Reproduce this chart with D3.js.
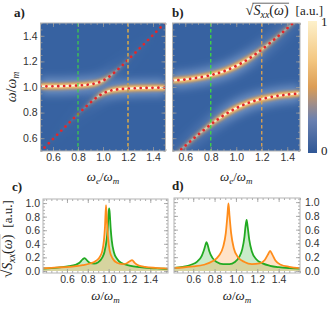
<!DOCTYPE html>
<html>
<head>
<meta charset="utf-8">
<script src="https://cdn.jsdelivr.net/npm/d3@7"></script>
<style>
body { margin: 0; background: #fff; }
svg { display: block; }
.tick text { font-family: "Liberation Sans", Arial, sans-serif; font-size: 10.5px; fill: #333; }
</style>
</head>
<body>
<script>
var svgWidth = 332;
var svgHeight = 309;

// ---- top panels: polariton branches vs omega_e
var omegaE = [0.5, 0.6, 0.7, 0.8, 0.85, 0.9, 0.95, 1.0, 1.05, 1.1, 1.15, 1.2, 1.3, 1.4, 1.5];
var upperA = [1.005, 1.006, 1.008, 1.012, 1.015, 1.021, 1.031, 1.05, 1.081, 1.121, 1.165, 1.212, 1.308, 1.406, 1.505];
var lowerA = [0.495, 0.594, 0.692, 0.788, 0.835, 0.879, 0.919, 0.95, 0.969, 0.979, 0.985, 0.988, 0.992, 0.994, 0.995];
var upperB = [1.050, 1.059, 1.073, 1.093, 1.106, 1.122, 1.142, 1.165, 1.192, 1.222, 1.256, 1.293, 1.373, 1.459, 1.550];
var lowerB = [0.451, 0.541, 0.627, 0.707, 0.744, 0.778, 0.808, 0.835, 0.858, 0.878, 0.894, 0.907, 0.927, 0.941, 0.950];
// brightness of the density along each branch (0..1)
var glowUpperA = [1, 1, 1, 1, 0.97, 0.92, 0.8, 0.55, 0.3, 0.15, 0.08, 0.05, 0.02, 0.01, 0];
var glowLowerA = [0, 0.01, 0.02, 0.05, 0.08, 0.15, 0.3, 0.55, 0.8, 0.92, 0.97, 1, 1, 1, 1];
var glowUpperB = [1, 1, 1, 1, 1, 1, 1, 1, 0.92, 0.8, 0.65, 0.5, 0.33, 0.22, 0.15];
var glowLowerB = [0.15, 0.22, 0.33, 0.5, 0.65, 0.8, 0.92, 1, 1, 1, 1, 1, 1, 1, 1];

var cutValues = [0.8, 1.2];
var heatTicks = [0.6, 0.8, 1.0, 1.2, 1.4];

// ---- bottom panels: spectra at the two cuts
var cGreenW = [0.37, 0.45, 0.55, 0.62, 0.68, 0.72, 0.75, 0.77, 0.79, 0.82, 0.86, 0.90, 0.94, 0.96, 0.98, 0.99, 1.0, 1.005, 1.01, 1.02, 1.03, 1.05, 1.08, 1.12, 1.2, 1.3, 1.4, 1.5, 1.57];
var cGreenS = [0.035, 0.042, 0.055, 0.07, 0.09, 0.12, 0.17, 0.19, 0.16, 0.12, 0.11, 0.13, 0.2, 0.28, 0.45, 0.6, 0.85, 0.92, 0.86, 0.62, 0.45, 0.28, 0.18, 0.12, 0.08, 0.055, 0.042, 0.035, 0.03];
var cOrangeW = [0.37, 0.45, 0.55, 0.65, 0.75, 0.82, 0.88, 0.92, 0.94, 0.955, 0.965, 0.975, 0.985, 0.995, 1.01, 1.04, 1.08, 1.13, 1.17, 1.2, 1.225, 1.25, 1.29, 1.35, 1.45, 1.57];
var cOrangeS = [0.04, 0.045, 0.055, 0.065, 0.085, 0.11, 0.15, 0.22, 0.3, 0.45, 0.65, 0.97, 0.7, 0.48, 0.3, 0.18, 0.12, 0.1, 0.11, 0.14, 0.16, 0.12, 0.08, 0.06, 0.045, 0.035];
var dGreenW = [0.42, 0.5, 0.58, 0.64, 0.68, 0.70, 0.715, 0.725, 0.735, 0.75, 0.78, 0.82, 0.88, 0.94, 0.99, 1.03, 1.06, 1.08, 1.09, 1.10, 1.11, 1.125, 1.15, 1.19, 1.25, 1.32, 1.4, 1.5, 1.6];
var dGreenS = [0.045, 0.06, 0.09, 0.14, 0.22, 0.3, 0.38, 0.42, 0.38, 0.29, 0.19, 0.13, 0.1, 0.1, 0.13, 0.2, 0.32, 0.5, 0.65, 0.74, 0.64, 0.45, 0.28, 0.17, 0.11, 0.075, 0.055, 0.042, 0.035];
var dOrangeW = [0.42, 0.5, 0.6, 0.7, 0.78, 0.84, 0.88, 0.905, 0.92, 0.93, 0.94, 0.955, 0.98, 1.02, 1.08, 1.15, 1.22, 1.27, 1.3, 1.32, 1.34, 1.37, 1.42, 1.5, 1.6];
var dOrangeS = [0.045, 0.05, 0.065, 0.09, 0.14, 0.22, 0.35, 0.55, 0.8, 0.98, 0.8, 0.55, 0.33, 0.2, 0.13, 0.1, 0.11, 0.16, 0.24, 0.29, 0.24, 0.15, 0.09, 0.06, 0.04];
var specTicksX = [0.6, 0.8, 1.0, 1.2, 1.4];
var specTicksY = [0.0, 0.2, 0.4, 0.6, 0.8, 1.0];

var serif = '"Liberation Serif", "DejaVu Serif", serif';
var green = '#22aa22';
var orange = '#ff8c1a';
var frameColor = '#b4b4b4';

var svg = d3.select('body').append('svg')
    .attr('width', svgWidth)
    .attr('height', svgHeight);
var defs = svg.append('defs');

// blur filters for the density glow
[['b0', 4.5], ['b1', 1.8], ['b2', 0.9], ['b3', 0.4]].forEach(function(f) {
    defs.append('filter').attr('id', f[0])
        .attr('filterUnits', 'userSpaceOnUse')
        .attr('x', 0).attr('y', 0).attr('width', svgWidth).attr('height', svgHeight)
        .append('feGaussianBlur').attr('stdDeviation', f[1]);
});

var glowLayers = [
    {color: '#86a3cf', width: 16, filter: 'b0', op: 0.75},
    {color: '#e39a43', width: 6.5, filter: 'b1', op: 1},
    {color: '#f7d28a', width: 3.5, filter: 'b2', op: 1},
    {color: '#fff8e2', width: 1.8, filter: 'b3', op: 1}
];

// text made of pieces (subscripts, overline)
function rich(parent, x, y, pieces, anchor, rotate, overY) {
    var g = parent.append('g')
        .attr('transform', 'translate(' + x + ',' + y + ')' + (rotate ? ' rotate(' + rotate + ')' : ''));
    var cx = 0, spans = [];
    pieces.forEach(function(p) {
        var t = g.append('text')
            .attr('x', cx).attr('y', p.dy || 0)
            .style('font-family', serif)
            .style('font-size', (p.size || 13) + 'px')
            .style('font-style', p.italic ? 'italic' : 'normal')
            .style('fill', '#222')
            .text(p.t);
        var w = t.node().getComputedTextLength();
        spans.push({node: t, x0: cx, x1: cx + w, over: p.over});
        cx += w + (p.gap || 0);
    });
    var shift = anchor === 'middle' ? -cx / 2 : (anchor === 'end' ? -cx : 0);
    spans.forEach(function(s) { s.node.attr('x', +s.node.attr('x') + shift); });
    var ov = spans.filter(function(s) { return s.over; });
    if (ov.length) {
        g.append('line')
            .attr('x1', ov[0].x0 + shift - 1).attr('x2', ov[ov.length - 1].x1 + shift + 0.5)
            .attr('y1', overY || -11.8).attr('y2', overY || -11.8)
            .attr('stroke', '#222').attr('stroke-width', 0.7);
    }
    return g;
}

var sxxPieces = [
    {t: '\u221A', size: 14.5},
    {t: 'S', italic: true, size: 14, over: true},
    {t: 'xx', italic: true, size: 10, dy: 3, over: true},
    {t: '(', size: 14, over: true},
    {t: '\u03C9', italic: true, size: 14, over: true},
    {t: ')', size: 14, over: true, gap: 7},
    {t: '[a.u.]', size: 13}
];

function styleAxis(sel) {
    sel.select('.domain').remove();
    sel.selectAll('.tick line').attr('stroke', '#999').attr('stroke-width', 0.8);
}

function frameTicks(g, x, y, box, opt) {
    var minorX = d3.range(Math.ceil(x.domain()[0] * 20) / 20, x.domain()[1] + 1e-9, 0.05);
    var minorY = d3.range(Math.ceil(y.domain()[0] * 20) / 20, y.domain()[1] + 1e-9, opt.minorStepY);
    var fmt = d3.format('.1f');
    // bottom
    g.append('g').attr('transform', 'translate(0,' + box.y1 + ')')
        .call(d3.axisBottom(x).tickValues(minorX).tickSize(-2).tickFormat('')).call(styleAxis);
    g.append('g').attr('transform', 'translate(0,' + box.y1 + ')')
        .call(d3.axisBottom(x).tickValues(opt.xTicks).tickSize(-4).tickPadding(3).tickFormat(fmt)).call(styleAxis);
    // top
    g.append('g').attr('transform', 'translate(0,' + box.y0 + ')')
        .call(d3.axisTop(x).tickValues(minorX).tickSize(-2).tickFormat('')).call(styleAxis);
    g.append('g').attr('transform', 'translate(0,' + box.y0 + ')')
        .call(d3.axisTop(x).tickValues(opt.xTicks).tickSize(-4).tickFormat('')).call(styleAxis);
    // left
    g.append('g').attr('transform', 'translate(' + box.x0 + ',0)')
        .call(d3.axisLeft(y).tickValues(minorY).tickSize(-2).tickFormat('')).call(styleAxis);
    g.append('g').attr('transform', 'translate(' + box.x0 + ',0)')
        .call(d3.axisLeft(y).tickValues(opt.yTicks).tickSize(-4).tickPadding(3)
            .tickFormat(opt.yLabels === 'left' ? fmt : '')).call(styleAxis);
    // right
    g.append('g').attr('transform', 'translate(' + box.x1 + ',0)')
        .call(d3.axisRight(y).tickValues(minorY).tickSize(-2).tickFormat('')).call(styleAxis);
    g.append('g').attr('transform', 'translate(' + box.x1 + ',0)')
        .call(d3.axisRight(y).tickValues(opt.yTicks).tickSize(-4).tickPadding(5)
            .tickFormat(opt.yLabels === 'right' ? fmt : '')).call(styleAxis);
    g.append('rect')
        .attr('x', box.x0).attr('y', box.y0)
        .attr('width', box.x1 - box.x0).attr('height', box.y1 - box.y0)
        .attr('fill', 'none').attr('stroke', frameColor).attr('stroke-width', 1);
}

function heatPanel(id, box, branches, cutStyles, showYLabels) {
    var x = d3.scaleLinear().domain([0.5, 1.5]).range([box.x0, box.x1]);
    var y = d3.scaleLinear().domain([0.5, 1.5]).range([box.y1, box.y0]);
    var g = svg.append('g');

    defs.append('clipPath').attr('id', 'clip' + id)
        .append('rect').attr('x', box.x0).attr('y', box.y0)
        .attr('width', box.x1 - box.x0).attr('height', box.y1 - box.y0);

    g.append('rect').attr('x', box.x0).attr('y', box.y0)
        .attr('width', box.x1 - box.x0).attr('height', box.y1 - box.y0)
        .attr('fill', '#3762a1');

    var inner = g.append('g').attr('clip-path', 'url(#clip' + id + ')');
    var line = d3.line()
        .x(function(d, i) { return x(omegaE[i]); })
        .y(function(d) { return y(d); })
        .curve(d3.curveCatmullRom);

    glowLayers.forEach(function(L, li) {
        branches.forEach(function(b, bi) {
            var gid = 'grad' + id + bi + li;
            var grad = defs.append('linearGradient').attr('id', gid)
                .attr('gradientUnits', 'userSpaceOnUse')
                .attr('x1', x(0.5)).attr('x2', x(1.5)).attr('y1', 0).attr('y2', 0);
            omegaE.forEach(function(e, i) {
                grad.append('stop')
                    .attr('offset', (x(e) - x(0.5)) / (x(1.5) - x(0.5)))
                    .attr('stop-color', L.color)
                    .attr('stop-opacity', b.glow[i] * L.op);
            });
            inner.append('path').datum(b.freq)
                .attr('d', line)
                .attr('fill', 'none')
                .attr('stroke', 'url(#' + gid + ')')
                .attr('stroke-width', L.width)
                .attr('filter', 'url(#' + L.filter + ')');
        });
    });

    // red dotted branches
    branches.forEach(function(b) {
        inner.append('path').datum(b.freq)
            .attr('d', line)
            .attr('fill', 'none')
            .attr('stroke', '#e3262a')
            .attr('stroke-width', 2.7)
            .attr('stroke-linecap', 'round')
            .attr('stroke-dasharray', '0.1,5.8');
    });

    // dashed cuts
    cutValues.forEach(function(c, i) {
        inner.append('line')
            .attr('x1', x(c)).attr('x2', x(c))
            .attr('y1', box.y0).attr('y2', box.y1)
            .attr('stroke', cutStyles[i].color)
            .attr('stroke-width', cutStyles[i].width)
            .attr('stroke-dasharray', '3.5,2.5');
    });

    frameTicks(g, x, y, box, {
        xTicks: heatTicks, yTicks: heatTicks, minorStepY: 0.05,
        yLabels: showYLabels ? 'left' : 'none'
    });

    rich(g, (box.x0 + box.x1) / 2, 181, [
        {t: '\u03C9', italic: true},
        {t: 'e', italic: true, size: 9, dy: 3},
        {t: '/'},
        {t: '\u03C9', italic: true},
        {t: 'm', italic: true, size: 9, dy: 3}
    ], 'middle');
}

function specPanel(id, box, xDomain, series, yLabels) {
    var x = d3.scaleLinear().domain(xDomain).range([box.x0, box.x1]);
    var y = d3.scaleLinear().domain([-0.03, 1.06]).range([box.y1, box.y0]);
    var g = svg.append('g');

    defs.append('clipPath').attr('id', 'clip' + id)
        .append('rect').attr('x', box.x0).attr('y', box.y0)
        .attr('width', box.x1 - box.x0).attr('height', box.y1 - box.y0);
    var inner = g.append('g').attr('clip-path', 'url(#clip' + id + ')');

    series.forEach(function(s) {
        var pts = s.w.map(function(w, i) { return [w, s.s[i]]; });
        inner.append('path').datum(pts)
            .attr('d', d3.area()
                .x(function(d) { return x(d[0]); })
                .y0(y(0))
                .y1(function(d) { return y(d[1]); })
                .curve(d3.curveMonotoneX))
            .attr('fill', s.color)
            .attr('fill-opacity', 0.24);
    });
    series.forEach(function(s) {
        var pts = s.w.map(function(w, i) { return [w, s.s[i]]; });
        inner.append('path').datum(pts)
            .attr('d', d3.line()
                .x(function(d) { return x(d[0]); })
                .y(function(d) { return y(d[1]); })
                .curve(d3.curveMonotoneX))
            .attr('fill', 'none')
            .attr('stroke', s.color)
            .attr('stroke-width', 1.8);
    });

    frameTicks(g, x, y, box, {
        xTicks: specTicksX, yTicks: specTicksY, minorStepY: 0.05, yLabels: yLabels
    });

    rich(g, (box.x0 + box.x1) / 2, 300, [
        {t: '\u03C9', italic: true},
        {t: '/'},
        {t: '\u03C9', italic: true},
        {t: 'm', italic: true, size: 9, dy: 3}
    ], 'middle');
}

var boxA = {x0: 40.5, x1: 165.5, y0: 23, y1: 151};
var boxB = {x0: 172.5, x1: 300, y0: 23, y1: 151};
var boxC = {x0: 43, x1: 168, y0: 199, y1: 273};
var boxD = {x0: 174, x1: 300, y0: 198, y1: 273};

heatPanel('a', boxA,
    [{freq: upperA, glow: glowUpperA}, {freq: lowerA, glow: glowLowerA}],
    [{color: '#3fdc3f', width: 1.1}, {color: '#b99b5c', width: 1.9}], true);
heatPanel('b', boxB,
    [{freq: upperB, glow: glowUpperB}, {freq: lowerB, glow: glowLowerB}],
    [{color: '#3fdc3f', width: 1.3}, {color: '#e3a54c', width: 1.3}], false);

specPanel('c', boxC, [0.37, 1.57], [
    {w: cGreenW, s: cGreenS, color: green},
    {w: cOrangeW, s: cOrangeS, color: orange}
], 'left');
specPanel('d', boxD, [0.42, 1.6], [
    {w: dGreenW, s: dGreenS, color: green},
    {w: dOrangeW, s: dOrangeS, color: orange}
], 'right');

// y label of panel a
rich(svg, 16, (boxA.y0 + boxA.y1) / 2, [
    {t: '\u03C9', italic: true, size: 14},
    {t: '/', size: 14},
    {t: '\u03C9', italic: true, size: 14},
    {t: 'm', italic: true, size: 9.5, dy: 3}
], 'middle', -90);

// y label of panel c
rich(svg, 11.5, 239, sxxPieces, 'middle', -90);

// colour bar
var cbStops = [[0, '#2f5796'], [0.25, '#6a80b0'], [0.38, '#a48f86'], [0.5, '#dc9d55'], [0.7, '#f3c680'], [1, '#fdf1cb']];
var cbGrad = defs.append('linearGradient').attr('id', 'cbar')
    .attr('x1', 0).attr('x2', 0).attr('y1', 1).attr('y2', 0);
cbStops.forEach(function(s) {
    cbGrad.append('stop').attr('offset', s[0]).attr('stop-color', s[1]);
});
var cbScale = d3.scaleLinear().domain([0, 1]).range([153, 21]);
svg.append('rect')
    .attr('x', 308).attr('y', cbScale(1))
    .attr('width', 9).attr('height', cbScale(0) - cbScale(1))
    .attr('fill', 'url(#cbar)');
[0, 1].forEach(function(v) {
    svg.append('text')
        .attr('x', 321).attr('y', cbScale(v) + (v ? 5 : 2))
        .style('font-family', serif).style('font-size', '13px').style('fill', '#222')
        .text(v);
});
rich(svg, 323, 15, sxxPieces, 'end');

// panel letters
[['a)', 14, 17], ['b)', 172, 17], ['c)', 12, 191], ['d)', 172, 190]].forEach(function(p) {
    svg.append('text')
        .attr('x', p[1]).attr('y', p[2])
        .style('font-family', serif).style('font-size', '13px').style('font-weight', 'bold')
        .style('fill', '#222')
        .text(p[0]);
});
</script>
</body>
</html>
